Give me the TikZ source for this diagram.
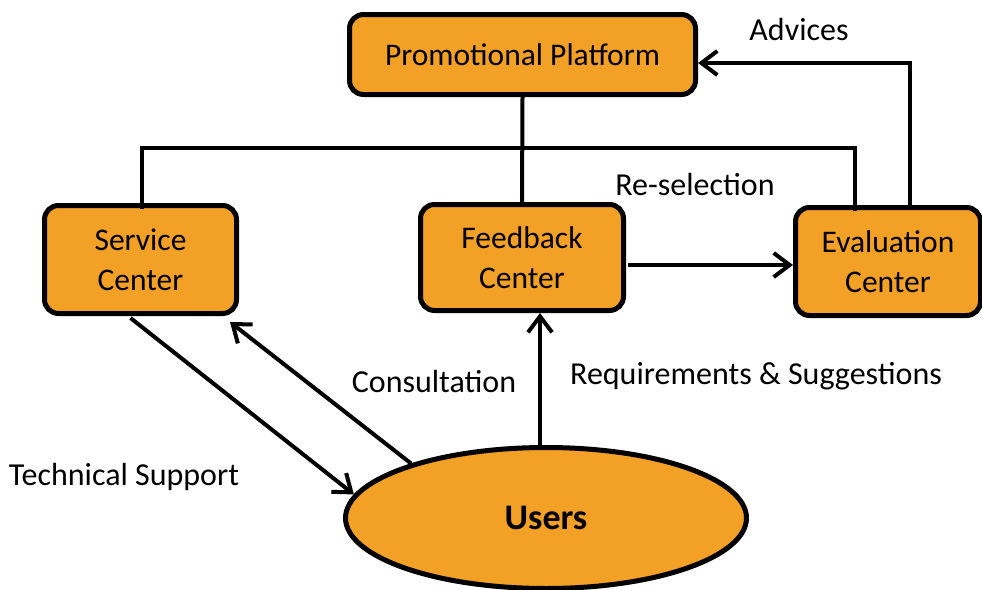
\documentclass[tikz,border=0pt]{standalone}
\usepackage{fontspec}
\setmainfont{Carlito}
\usetikzlibrary{arrows.meta,calc,shapes.geometric}
\definecolor{boxfill}{HTML}{F2A026}
\tikzset{
  stagebox/.style={draw=black, line width=5pt, fill=boxfill, rounded corners=14pt,
    inner sep=0pt, align=center, font=\fontsize{31.5}{40}\selectfont},
  userbox/.style={draw=black, line width=5pt, fill=boxfill, ellipse, inner sep=0pt,
    font=\fontsize{36}{40}\selectfont\bfseries},
  link/.style={line width=4pt, line cap=rect},
  arr/.style={line width=4pt, -{Straight Barb[length=16pt,width=24pt]}},
  lbl/.style={font=\fontsize{32}{36}\selectfont, inner sep=0pt}
}
\begin{document}
\begin{tikzpicture}[x=1pt,y=-1pt]
\useasboundingbox (0,0) rectangle (982,589);

% the five parts of the service system
\node[stagebox, minimum width=346pt, minimum height=80pt] (plat) at (522.5,54.5) {Promotional Platform};
\node[stagebox, minimum width=192pt, minimum height=108pt] (serv) at (140.5,259.5) {Service\\Center};
\node[stagebox, minimum width=203pt, minimum height=106pt] (feed) at (522,257.5) {Feedback\\Center};
\node[stagebox, minimum width=185pt, minimum height=108pt] (eval) at (888,261.5) {Evaluation\\Center};
\node[userbox, minimum width=401pt, minimum height=141pt] (users) at (546,518) {Users};

% helper points for the connectors
\coordinate (feedout) at ($(feed.east)+(2,7.5)$);
\coordinate (upx) at ([xshift=-6pt]users.north);
\coordinate (evalup) at ($(eval.north)+(22,0)$);
\coordinate (platin) at ($(plat.east)+(0,8.5)$);
\coordinate (busL) at ($(serv.north)+(1.5,4)$);
\coordinate (busR) at ($(eval.north)+(-33,4)$);
\coordinate (busTop) at ($(eval.north)+(-33,-57.5)$);

% plain links
\draw[link] (plat.south) -- (feed.north);
\draw[link] (busL) |- (busTop) -- (busR);

% arrows
\draw[arr] (evalup) |- (platin);
\draw[arr] (feedout) -- (feedout -| eval.west);
\draw[arr] (upx) -- (upx |- feed.south);
\draw[arr] ($(serv.south)+(-10,2)$) -- (users.173.7);
\draw[arr] (users.158) -- ($(serv.south east)+(-9,6)$);

% labels
\node[lbl] (advices) at (799,30) {Advices};
\node[lbl] (resel) at (695,185) {Re-selection};
\node[lbl] (reqs) at (756,376) {Requirements \& Suggestions};
\node[lbl] (consult) at (434,382) {Consultation};
\node[lbl] (techsup) at (124,477) {Technical Support};
\end{tikzpicture}
\end{document}
